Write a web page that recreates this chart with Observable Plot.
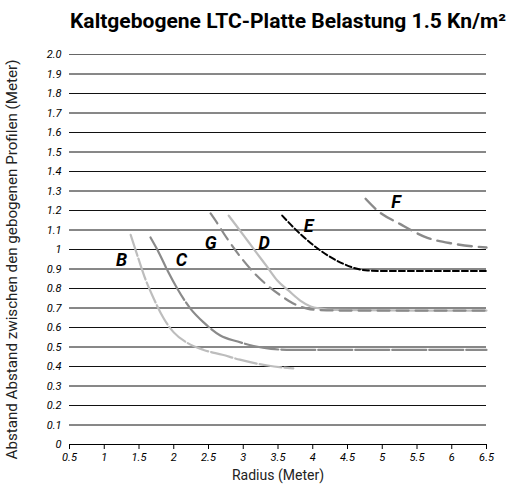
<!DOCTYPE html>
<html>
<head>
<meta charset="utf-8">
<script src="https://cdn.jsdelivr.net/npm/d3@7"></script>
<script src="https://cdn.jsdelivr.net/npm/@observablehq/plot@0.6"></script>
<style>
  body { margin: 0; background: #fff; font-family: Roboto, "Liberation Sans", sans-serif; }
  #wrap { width: 510px; height: 490px; position: relative; overflow: hidden; }
  #title { position: absolute; left: 288px; top: 9px; font-weight: bold; font-size: 20px; color: #000; white-space: nowrap; transform-origin: 0 0; }
  #chart { position: absolute; left: 0; top: 44px; }
</style>
</head>
<body>
<div id="wrap">
  <div id="title">Kaltgebogene LTC-Platte Belastung 1.5 Kn/m²</div>
  <div id="chart"></div>
</div>
<script>
const titleText = "Kaltgebogene LTC-Platte Belastung 1.5 Kn/m²";
const xLabel = "Radius (Meter)";
const yLabel = "Abstand Abstand zwischen den gebogenen Profilen (Meter)";
const xTicks = [0.5, 1, 1.5, 2, 2.5, 3, 3.5, 4, 4.5, 5, 5.5, 6, 6.5];
const yTicks = [0, 0.1, 0.2, 0.3, 0.4, 0.5, 0.6, 0.7, 0.8, 0.9, 1, 1.1, 1.2, 1.3, 1.4, 1.5, 1.6, 1.7, 1.8, 1.9, 2.0];
const yTickLabels = ["0", "0.1", "0.2", "0.3", "0.4", "0.5", "0.6", "0.7", "0.8", "0.9", "1", "1.1", "1.2", "1.3", "1.4", "1.5", "1.6", "1.7", "1.8", "1.9", "2.0"];

const bX = [1.38, 1.49, 1.59, 1.71, 1.85, 2.0, 2.2, 2.43, 2.7, 2.95, 3.35, 3.72];
const bY = [1.075, 0.955, 0.85, 0.75, 0.65, 0.575, 0.52, 0.485, 0.46, 0.435, 0.405, 0.39];
const cX = [1.665, 1.77, 1.91, 2.05, 2.24, 2.43, 2.67, 2.92, 3.15, 3.4, 3.7, 4.5, 5.5, 6.5];
const cY = [1.062, 0.995, 0.892, 0.80, 0.697, 0.626, 0.559, 0.528, 0.505, 0.49, 0.485, 0.485, 0.485, 0.485];
const gX = [2.53, 2.63, 2.72, 2.86, 3.0, 3.15, 3.35, 3.54, 3.72, 3.92, 4.11, 4.4, 5.5, 6.5];
const gY = [1.185, 1.133, 1.082, 1.01, 0.944, 0.882, 0.815, 0.764, 0.723, 0.697, 0.689, 0.687, 0.687, 0.687];
const dX = [2.79, 2.92, 3.06, 3.2, 3.35, 3.49, 3.65, 3.82, 3.97, 4.11, 4.3, 5.5, 6.5];
const dY = [1.174, 1.113, 1.046, 0.979, 0.908, 0.841, 0.79, 0.738, 0.708, 0.697, 0.69, 0.687, 0.687];
const eX = [3.56, 3.82, 4.11, 4.40, 4.79, 5.0, 5.5, 6.5];
const eY = [1.174, 1.08, 0.995, 0.933, 0.892, 0.89, 0.89, 0.89];
const fX = [4.76, 4.93, 5.26, 5.65, 6.02, 6.5];
const fY = [1.26, 1.20, 1.13, 1.06, 1.03, 1.01];

const labelNames = ["B", "C", "G", "D", "E", "F"];
const labelX = [1.25, 2.11, 2.53, 3.3, 3.94, 5.2];
const labelY = [0.945, 0.945, 1.03, 1.03, 1.12, 1.24];

const toPts = (xs, ys) => xs.map((x, i) => ({x, y: ys[i]}));
const labels = labelNames.map((n, i) => ({n, x: labelX[i], y: labelY[i]}));

const font = "Roboto, 'Liberation Sans', sans-serif";

const chart = Plot.plot({
  width: 510,
  height: 446,
  marginLeft: 69,
  marginRight: 24,
  marginTop: 10,
  marginBottom: 46,
  style: {fontFamily: font, fontSize: "11px", background: "#fff", color: "#000"},
  x: {domain: [0.5, 6.5]},
  y: {domain: [0, 2]},
  marks: [
    Plot.ruleY(yTicks.filter(d => d > 0 && d < 2), {stroke: "#111", strokeWidth: 1}),
    Plot.ruleY([2], {stroke: "#666", strokeWidth: 1.2}),
    Plot.ruleY([0], {stroke: "#000", strokeWidth: 1.2}),
    Plot.axisY({ticks: yTicks, tickSize: 0, tickPadding: 8, tickFormat: d => yTickLabels[yTicks.indexOf(d)], fontStyle: "italic", fontSize: 11, label: null}),
    Plot.axisX({ticks: xTicks, tickSize: 5, tickPadding: 4, fontStyle: "italic", fontSize: 11, label: null, tickFormat: d => String(d)}),
    Plot.text([xLabel], {frameAnchor: "bottom", dy: 35, fontSize: 14, fill: "#222", className: "xlab"}),
    Plot.text([yLabel], {frameAnchor: "left", textAnchor: "middle", dx: -57, dy: 10, rotate: -90, fontSize: 14, fill: "#222", className: "ylab"}),
    Plot.line(toPts(dX, dY), {x: "x", y: "y", stroke: "#bdbdbd", strokeWidth: 2.2, curve: "monotone-x"}),
    Plot.line(toPts(gX, gY), {x: "x", y: "y", stroke: "#8a8a8a", strokeWidth: 2.2, strokeDasharray: "12,7", curve: "monotone-x"}),
    Plot.line(toPts(bX, bY), {x: "x", y: "y", stroke: "#bdbdbd", strokeWidth: 2.2, strokeDasharray: "22,3", curve: "monotone-x"}),
    Plot.line(toPts(cX, cY), {x: "x", y: "y", stroke: "#8a8a8a", strokeWidth: 2.2, strokeDasharray: "34,3", curve: "monotone-x"}),
    Plot.line(toPts(eX, eY), {x: "x", y: "y", stroke: "#000", strokeWidth: 2, strokeDasharray: "6,3", curve: "monotone-x"}),
    Plot.line(toPts(fX, fY), {x: "x", y: "y", stroke: "#8a8a8a", strokeWidth: 2.4, strokeDasharray: "14,7", curve: "monotone-x"}),
    Plot.text(labels, {x: "x", y: "y", text: "n", fontSize: 18, fontWeight: "bold", fontStyle: "italic", fill: "#000"})
  ]
});
document.getElementById("chart").appendChild(chart);

// condense the long texts to the reference widths
const yl = chart.querySelector(".ylab text");
if (yl) { yl.setAttribute("textLength", 400); yl.setAttribute("lengthAdjust", "spacingAndGlyphs"); }
const t = document.getElementById("title");
const w = t.getBoundingClientRect().width;
const s = 436 / w;
t.style.transform = `scaleX(${s}) translateX(-50%)`;
</script>
</body>
</html>
